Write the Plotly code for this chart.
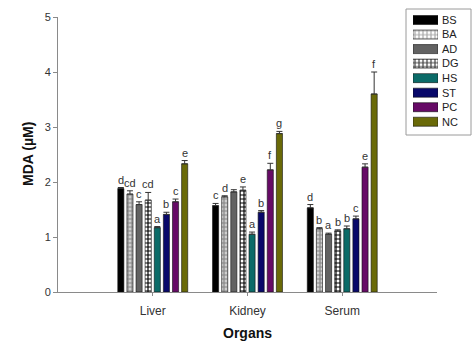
import plotly.graph_objects as go

# --- data -------------------------------------------------------------
organs = ["Liver", "Kidney", "Serum"]
groups = ["BS", "BA", "AD", "DG", "HS", "ST", "PC", "NC"]

mda = {
    "BS": [1.88, 1.57, 1.53],
    "BA": [1.78, 1.73, 1.15],
    "AD": [1.59, 1.82, 1.05],
    "DG": [1.67, 1.85, 1.11],
    "HS": [1.17, 1.05, 1.15],
    "ST": [1.41, 1.45, 1.33],
    "PC": [1.64, 2.22, 2.27],
    "NC": [2.33, 2.88, 3.60],
}
sem = {
    "BS": [0.02, 0.04, 0.06],
    "BA": [0.06, 0.02, 0.02],
    "AD": [0.05, 0.04, 0.02],
    "DG": [0.14, 0.06, 0.02],
    "HS": [0.02, 0.04, 0.05],
    "ST": [0.04, 0.03, 0.05],
    "PC": [0.05, 0.12, 0.06],
    "NC": [0.06, 0.04, 0.40],
}
letters = {
    "BS": ["d", "c", "d"],
    "BA": ["cd", "d", "b"],
    "AD": ["c", "", "a"],
    "DG": ["cd", "e", "b"],
    "HS": ["a", "a", "b"],
    "ST": ["b", "b", "c"],
    "PC": ["c", "f", "e"],
    "NC": ["e", "g", "f"],
}

# --- styling ------------------------------------------------------------
style = {
    "BS": dict(color="#000000", shape="", fg="#000000", bg="#000000", size=4, sol=0.5),
    "BA": dict(color="#a8a8a8", shape="+", fg="#868686", bg="#cfcfcf", size=4, sol=0.5),
    "AD": dict(color="#626262", shape="", fg="#626262", bg="#626262", size=4, sol=0.5),
    "DG": dict(color="#404040", shape="+", fg="#000000", bg="#ffffff", size=4, sol=0.5),
    "HS": dict(color="#0b6b68", shape="", fg="#0b6b68", bg="#0b6b68", size=4, sol=0.5),
    "ST": dict(color="#08086a", shape="", fg="#08086a", bg="#08086a", size=4, sol=0.5),
    "PC": dict(color="#660a66", shape="", fg="#660a66", bg="#660a66", size=4, sol=0.5),
    "NC": dict(color="#6a6a08", shape="", fg="#6a6a08", bg="#6a6a08", size=4, sol=0.5),
}

FONT = "Liberation Sans, Arial, sans-serif"
W, H = 473, 347
BARGAP = 0.23
BARGROUPGAP = 0.33

fig = go.Figure()

for g in groups:
    s = style[g]
    fig.add_trace(go.Bar(
        x=organs, y=mda[g], name=g,
        marker=dict(
            color=s["color"],
            line=dict(color="#111111", width=0.6),
            pattern=dict(shape=s["shape"], fgcolor=s["fg"], bgcolor=s["bg"],
                         size=s["size"], solidity=s["sol"], fillmode="replace"),
        ),
        error_y=dict(type="data", symmetric=False, array=sem[g],
                     arrayminus=[0] * len(organs),
                     color="#333333", thickness=1, width=3),
        showlegend=False,
        xaxis="x", yaxis="y",
    ))

# significance letters above each error bar
slot = (1 - BARGAP) / len(groups)
annotations = []
for j, g in enumerate(groups):
    for i, org in enumerate(organs):
        if not letters[g][i]:
            continue
        annotations.append(dict(
            x=i + (j - (len(groups) - 1) / 2) * slot,
            y=mda[g][i] + sem[g][i],
            xref="x", yref="y", text=letters[g][i], showarrow=False,
            yanchor="middle", yshift=8,
            font=dict(family=FONT, size=11, color="#333333"),
        ))

# axis titles
annotations.append(dict(
    x=(58 + 437) / 2 / W, y=(H - 333) / H, xref="paper", yref="paper",
    text="<b>Organs</b>", showarrow=False, xanchor="center", yanchor="middle",
    font=dict(family=FONT, size=14, color="#111111"),
))
annotations.append(dict(
    x=28 / W, y=(H - 154) / H, xref="paper", yref="paper",
    text="<b>MDA (µM)</b>", showarrow=False, textangle=-90,
    xanchor="center", yanchor="middle",
    font=dict(family=FONT, size=14, color="#111111"),
))

# key: one swatch per group on its own small axis pair
fig.add_trace(go.Bar(
    x=[1] * len(groups), y=groups, orientation="h", width=0.62,
    marker=dict(
        color=[style[g]["color"] for g in groups],
        line=dict(color="#111111", width=0.6),
        pattern=dict(
            shape=[style[g]["shape"] for g in groups],
            fgcolor=[style[g]["fg"] for g in groups],
            bgcolor=[style[g]["bg"] for g in groups],
            size=[style[g]["size"] for g in groups],
            solidity=[style[g]["sol"] for g in groups],
            fillmode="replace",
        ),
    ),
    showlegend=False, hoverinfo="skip",
    xaxis="x2", yaxis="y2",
))

axis_grey = "#8a8a8a"

fig.update_layout(
    width=W, height=H,
    margin=dict(l=0, r=0, t=0, b=0, pad=0),
    paper_bgcolor="white", plot_bgcolor="white",
    barmode="group", bargap=BARGAP, bargroupgap=BARGROUPGAP,
    font=dict(family=FONT, color="#333333"),
    xaxis=dict(
        domain=[58 / W, 437 / W], anchor="y", automargin=False,
        type="category", range=[-1, 3],
        showline=True, linecolor=axis_grey, linewidth=1,
        ticks="outside", ticklen=3, tickcolor=axis_grey,
        tickfont=dict(family=FONT, size=12, color="#333333"),
        ticklabelstandoff=5,
        showgrid=False, zeroline=False,
    ),
    yaxis=dict(
        domain=[(H - 292) / H, (H - 17) / H], anchor="x", automargin=False,
        range=[0, 5], dtick=1,
        showline=True, linecolor=axis_grey, linewidth=1,
        ticks="outside", ticklen=4, tickcolor=axis_grey,
        tickfont=dict(family=FONT, size=11, color="#333333"),
        showgrid=False, zeroline=False,
    ),
    xaxis2=dict(
        domain=[413 / W, 438 / W], anchor="y2", range=[0, 1],
        visible=False, fixedrange=True, automargin=False,
    ),
    yaxis2=dict(
        domain=[(H - 129) / H, (H - 12.75) / H], anchor="x2", automargin=False,
        type="category", autorange="reversed", side="right",
        showline=False, showgrid=False, zeroline=False, ticks="",
        tickfont=dict(family=FONT, size=11, color="#222222"),
        ticklabelstandoff=3,
    ),
    annotations=annotations,
    shapes=[dict(type="rect", xref="paper", yref="paper",
                 x0=406 / W, x1=471 / W, y0=(H - 135) / H, y1=(H - 9) / H,
                 line=dict(color="#9a9a9a", width=1), fillcolor="rgba(0,0,0,0)",
                 layer="below")],
)

fig.write_html("out.html")
